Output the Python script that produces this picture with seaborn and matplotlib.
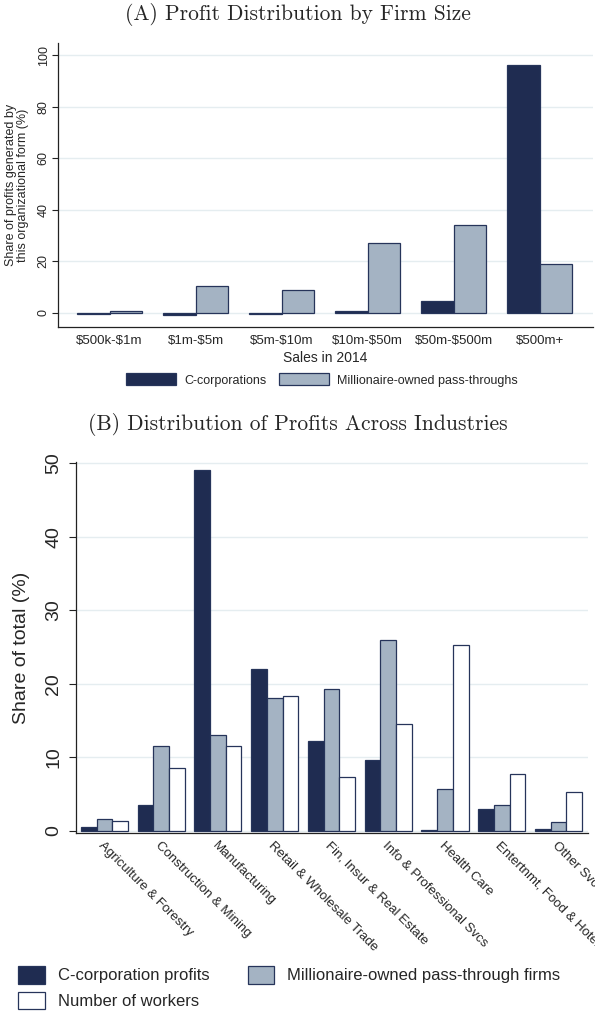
import numpy as np
import pandas as pd
import seaborn as sns
import matplotlib
matplotlib.use("Agg")
import matplotlib.pyplot as plt
from matplotlib.patches import Patch

# ---------------- data ----------------
size_cats = ["$500k-$1m", "$1m-$5m", "$5m-$10m", "$10m-$50m", "$50m-$500m", "$500m+"]
ccorp_size = [-0.4, -0.7, -0.3, 0.6, 4.5, 96.2]
passthru_size = [0.9, 10.4, 9.1, 27.0, 34.0, 19.2]
series_a = ["C-corporations", "Millionaire-owned pass-throughs"]

industries = ["Agriculture & Forestry", "Construction & Mining", "Manufacturing",
              "Retail & Wholesale Trade", "Fin, Insur & Real Estate",
              "Info & Professional Svcs", "Health Care", "Entertnmt, Food & Hotels",
              "Other Svcs"]
ccorp_ind = [0.5, 3.6, 49.0, 22.0, 12.2, 9.6, 0.1, 3.0, 0.3]
passthru_ind = [1.7, 11.5, 13.1, 18.1, 19.3, 25.9, 5.7, 3.6, 1.2]
workers_ind = [1.4, 8.6, 11.6, 18.4, 7.4, 14.5, 25.3, 7.7, 5.3]
series_b = ["C-corporation profits", "Millionaire-owned pass-through firms", "Number of workers"]

yticks_a = [0, 20, 40, 60, 80, 100]
yticks_b = [0, 10, 20, 30, 40, 50]

# ---------------- style ----------------
sns.set_style("white")
plt.rcParams['font.family'] = ['Liberation Sans', 'DejaVu Sans']
plt.rcParams['text.parse_math'] = False

NAVY = "#1f2c51"
LIGHT = "#a4b3c3"
WHITE = "#ffffff"
EDGE = "#26345a"
GRID = "#e5edf0"
SPINE = "#222222"

W, H = 595, 1019
fig = plt.figure(figsize=(W / 100, H / 100), dpi=100)

def fx(px):
    return px / W

def fy(py):
    return 1 - py / H

# ---------------- panel A ----------------
dfa = pd.DataFrame({
    "cat": size_cats * 2,
    "val": ccorp_size + passthru_size,
    "series": [series_a[0]] * len(size_cats) + [series_a[1]] * len(size_cats),
})
ax1 = fig.add_axes([fx(58), fy(327), fx(593 - 58), (327 - 43) / H])
sns.barplot(data=dfa, x="cat", y="val", hue="series", order=size_cats,
            hue_order=series_a, palette={series_a[0]: NAVY, series_a[1]: LIGHT},
            width=0.76, saturation=1, edgecolor=EDGE, linewidth=0.9,
            legend=False, ax=ax1, zorder=3)
ax1.set_xlim(-0.60, 5.62)
ax1.set_ylim(-5.45, 104.8)
ax1.set_yticks(yticks_a)
ax1.yaxis.grid(True, color=GRID, linewidth=1.0, zorder=0)
ax1.set_axisbelow(True)
for s in ["top", "right"]:
    ax1.spines[s].set_visible(False)
for s in ["left", "bottom"]:
    ax1.spines[s].set_color(SPINE)
    ax1.spines[s].set_linewidth(0.9)
ax1.tick_params(axis="y", labelrotation=90, length=4, width=0.8, color=SPINE,
                labelsize=9, pad=2, left=True)
ax1.tick_params(axis="x", length=0, labelsize=9.5, pad=6)
for lab in ax1.get_yticklabels():
    lab.set_va("center")
ax1.set_xlabel("Sales in 2014", fontsize=10, labelpad=3)
ax1.set_ylabel("Share of profits generated by\nthis organizational form (%)",
               fontsize=9, linespacing=1.0)
ax1.yaxis.set_label_coords(-0.054, 0.5)

fig.legend(handles=[Patch(facecolor=NAVY, edgecolor=EDGE, linewidth=0.9),
                    Patch(facecolor=LIGHT, edgecolor=EDGE, linewidth=0.9)],
           labels=series_a, loc="center", bbox_to_anchor=(fx(322), fy(380)),
           ncol=2, frameon=False, fontsize=9, handlelength=4.0, handleheight=1.1,
           handletextpad=0.64, columnspacing=1.0, borderpad=0)

# ---------------- panel B ----------------
dfb = pd.DataFrame({
    "cat": industries * 3,
    "val": ccorp_ind + passthru_ind + workers_ind,
    "series": sum([[s] * len(industries) for s in series_b], []),
})
ax2 = fig.add_axes([fx(76), fy(833), fx(588 - 76), (833 - 462) / H])
sns.barplot(data=dfb, x="cat", y="val", hue="series", order=industries,
            hue_order=series_b,
            palette={series_b[0]: NAVY, series_b[1]: LIGHT, series_b[2]: WHITE},
            width=0.83, saturation=1, edgecolor=EDGE, linewidth=0.9,
            legend=False, ax=ax2, zorder=3)
ax2.set_xlim(-0.5, 8.52)
ax2.set_ylim(-0.27, 50.14)
ax2.set_yticks(yticks_b)
ax2.yaxis.grid(True, color=GRID, linewidth=1.0, zorder=0)
ax2.set_axisbelow(True)
for s in ["top", "right"]:
    ax2.spines[s].set_visible(False)
for s in ["left", "bottom"]:
    ax2.spines[s].set_color(SPINE)
    ax2.spines[s].set_linewidth(0.9)
ax2.tick_params(axis="y", labelrotation=90, length=5, width=0.8, color=SPINE,
                labelsize=14, pad=5, left=True)
ax2.tick_params(axis="x", length=0, labelsize=9.5, pad=5)
for lab in ax2.get_yticklabels():
    lab.set_va("center")
ax2.set_xticks(range(len(industries)))
ax2.set_xticklabels(industries, rotation=-45, ha="left", va="top",
                    rotation_mode="anchor")
ax2.set_xlabel("")
ax2.set_ylabel("Share of total (%)", fontsize=14)
ax2.yaxis.set_label_coords(-0.089, 0.5)

hb = [Patch(facecolor=NAVY, edgecolor=EDGE, linewidth=0.9),
      Patch(facecolor=WHITE, edgecolor=EDGE, linewidth=0.9),
      Patch(facecolor=LIGHT, edgecolor=EDGE, linewidth=0.9)]
fig.legend(handles=hb, labels=[series_b[0], series_b[2], series_b[1]],
           loc="upper left", bbox_to_anchor=(fx(18), fy(966)), ncol=2,
           frameon=False, fontsize=12, handlelength=1.6, handleheight=1.26,
           handletextpad=0.78, columnspacing=2.3, labelspacing=0.48, borderpad=0,
           borderaxespad=0)

# ---------------- titles ----------------
fig.text(0.5, fy(15), "(A) Profit Distribution by Firm Size", family="cmr10",
         fontsize=15.5, ha="center", va="center")
fig.text(0.5, fy(425), "(B) Distribution of Profits Across Industries", family="cmr10",
         fontsize=15.5, ha="center", va="center")

fig.savefig("out.png", dpi=100)
